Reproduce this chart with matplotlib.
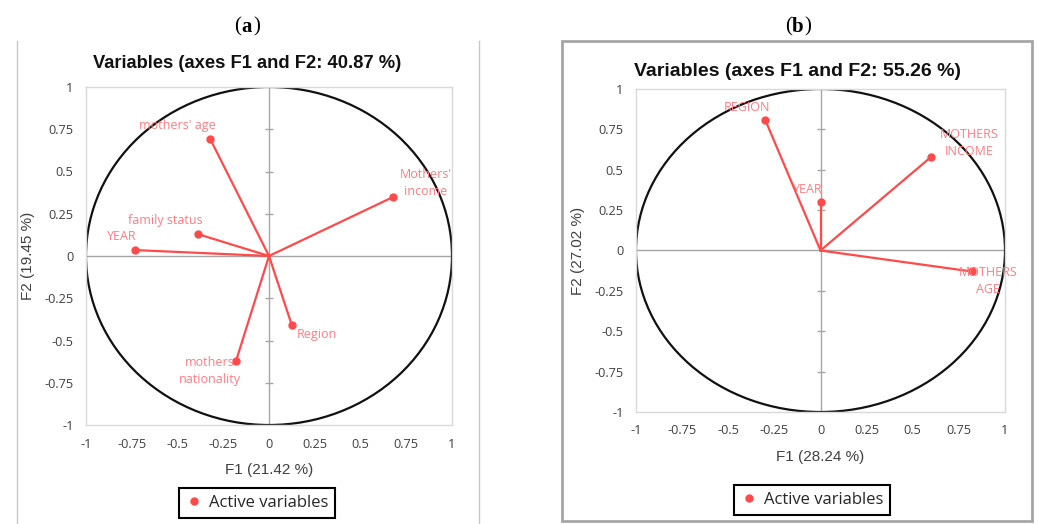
import matplotlib
matplotlib.use("Agg")
import matplotlib.pyplot as plt
from matplotlib.patches import Ellipse, Rectangle
from matplotlib.lines import Line2D

# panel (a)
names_a = ["mothers' age", "Mothers'\nincome", "family status", "YEAR", "Region", "mothers\nnationality"]
f1_a = [-0.32, 0.68, -0.39, -0.73, 0.125, -0.18]
f2_a = [0.69, 0.35, 0.13, 0.035, -0.41, -0.62]
offs_a = [(-33, 14), (32, 14), (-32, 14), (-14, 14), (25, -9), (-26, -10)]

# panel (b)
names_b = ["REGION", "MOTHERS\nINCOME", "YEAR", "MOTHERS\nAGE"]
f1_b = [-0.30, 0.60, 0.0, 0.82]
f2_b = [0.81, 0.58, 0.30, -0.13]
offs_b = [(-18, 12), (38, 14), (-13, 13), (16, -10)]

ticks = [-1, -0.75, -0.5, -0.25, 0, 0.25, 0.5, 0.75, 1]
tick_labels = ["-1", "-0.75", "-0.5", "-0.25", "0", "0.25", "0.5", "0.75", "1"]

RED = "#FF4A4A"
LBL = "#FF7C80"

fig = plt.figure(figsize=(10.38, 5.24), dpi=100)


def draw_panel(rect, xs, ys, names, offs, xlab, ylab):
    ax = fig.add_axes(rect)
    ax.set_xlim(-1, 1)
    ax.set_ylim(-1, 1)
    for s in ax.spines.values():
        s.set_color("#D9D9D9")
        s.set_linewidth(1)
    ax.set_xticks(ticks)
    ax.set_yticks(ticks)
    ax.set_xticklabels(tick_labels)
    ax.set_yticklabels(tick_labels)
    ax.tick_params(length=0, labelsize=9.2, labelcolor="#404040", pad=9)
    for lab in ax.get_xticklabels() + ax.get_yticklabels():
        lab.set_family("Open Sans")
    ax.axhline(0, color="#A6A6A6", lw=1, zorder=1)
    ax.axvline(0, color="#A6A6A6", lw=1, zorder=1)
    inner = [t for t in ticks if t not in (-1, 0, 1)]
    ax.scatter([0] * len(inner), inner, marker="_", s=40, color="#A6A6A6", lw=1, zorder=1)
    ax.add_patch(Ellipse((0, 0), 2, 2, fill=False, ec="#111111", lw=1.6, zorder=2))
    for x, y, n, o in zip(xs, ys, names, offs):
        ax.plot([0, x], [0, y], color=RED, lw=1.6, zorder=3)
        ax.plot(x, y, "o", color=RED, ms=5, zorder=4)
        ax.annotate(n, (x, y), xytext=o, textcoords="offset pixels", ha="center",
                    va="center", color=LBL, fontsize=9, family="Open Sans",
                    linespacing=1.4, zorder=5)
    ax.set_xlabel(xlab, fontsize=11, color="#404040", family="Liberation Sans", labelpad=9)
    ax.set_ylabel(ylab, fontsize=11, color="#404040", family="Liberation Sans", labelpad=7)
    return ax


ax_a = draw_panel([86 / 1038, 1 - 425 / 524, 366 / 1038, 338 / 524],
                  f1_a, f2_a, names_a, offs_a, "F1 (21.42 %)", "F2 (19.45 %)")
ax_b = draw_panel([636 / 1038, 1 - 412 / 524, 369 / 1038, 323 / 524],
                  f1_b, f2_b, names_b, offs_b, "F1 (28.24 %)", "F2 (27.02 %)")

# titles
fig.text(247 / 1038, 1 - 64 / 524, "Variables (axes F1 and F2: 40.87 %)", ha="center",
         va="center", fontsize=13.2, fontweight="bold", family="Liberation Sans", color="#111111")
fig.text(797 / 1038, 1 - 72 / 524, "Variables (axes F1 and F2: 55.26 %)", ha="center",
         va="center", fontsize=14, fontweight="bold", family="Liberation Sans", color="#111111")

# panel letters
for cx, letter in [(247, "a"), (798, "b")]:
    fig.text(cx / 1038, 1 - 27 / 524, letter, ha="center", va="center", fontsize=15,
             fontweight="bold", family="Liberation Serif")
    fig.text((cx - 6) / 1038, 1 - 27 / 524, "(", ha="right", va="center", fontsize=15,
             family="Liberation Serif")
    fig.text((cx + 6) / 1038, 1 - 27 / 524, ")", ha="left", va="center", fontsize=15,
             family="Liberation Serif")

# frames
fig.add_artist(Line2D([17 / 1038, 17 / 1038], [0, 1 - 41 / 524], color="#C8C8C8", lw=1))
fig.add_artist(Line2D([479 / 1038, 479 / 1038], [0, 1 - 41 / 524], color="#C8C8C8", lw=1))
fig.add_artist(Rectangle((562 / 1038, 3 / 524), 470 / 1038, 480 / 524, fill=False,
                         ec="#A6A6A6", lw=2, transform=fig.transFigure))

# legends
handle = Line2D([], [], ls="none", marker="o", color=RED, ms=5)
for ax, cx, cy in [(ax_a, 257, 503), (ax_b, 812, 500)]:
    leg = ax.legend([handle], ["Active variables"], loc="center",
                    bbox_to_anchor=(cx / 1038, 1 - cy / 524), bbox_transform=fig.transFigure,
                    fancybox=False, framealpha=1, edgecolor="black", handlelength=1,
                    handletextpad=0.4, borderpad=0.4, borderaxespad=0,
                    prop={"family": "Open Sans", "size": 12})
    leg.get_frame().set_linewidth(1.5)
    leg.get_texts()[0].set_color("#262626")

fig.savefig("out.png", dpi=100)
